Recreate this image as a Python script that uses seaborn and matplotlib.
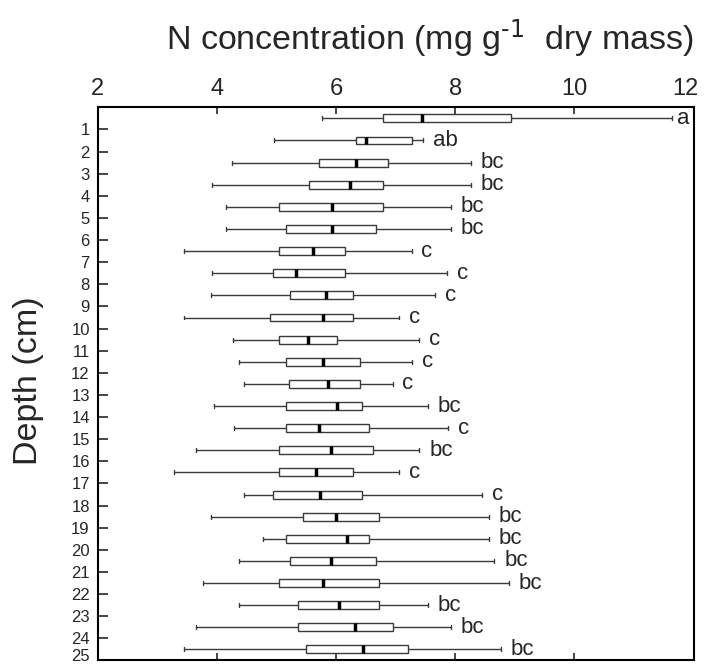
import numpy as np
import pandas as pd
import matplotlib
matplotlib.use('Agg')
import matplotlib.pyplot as plt
import matplotlib.transforms as mtransforms
import seaborn as sns

# 깊이별 N 농도 (박스플롯 요약값, 그림에서 읽은 값)
depth = list(range(1, 26))
whisker_lo = [5.76, 4.96, 4.25, 3.92, 4.16, 4.16, 3.45, 3.92, 3.90, 3.45,
              4.27, 4.37, 4.45, 3.95, 4.29, 3.66, 3.29, 4.45, 3.90, 4.77,
              4.38, 3.77, 4.38, 3.66, 3.45]
q1 = [6.79, 6.34, 5.71, 5.55, 5.04, 5.17, 5.04, 4.95, 5.23, 4.89,
      5.04, 5.17, 5.21, 5.17, 5.17, 5.04, 5.04, 4.95, 5.44, 5.17,
      5.23, 5.04, 5.36, 5.36, 5.50]
median = [7.45, 6.51, 6.33, 6.23, 5.93, 5.93, 5.62, 5.33, 5.84, 5.78,
          5.54, 5.79, 5.86, 6.01, 5.72, 5.92, 5.66, 5.73, 6.00, 6.18,
          5.91, 5.78, 6.05, 6.32, 6.45]
q3 = [8.93, 7.27, 6.88, 6.79, 6.79, 6.68, 6.16, 6.16, 6.28, 6.28,
      6.01, 6.40, 6.40, 6.44, 6.55, 6.62, 6.28, 6.43, 6.73, 6.55,
      6.68, 6.73, 6.73, 6.95, 7.21]
whisker_hi = [11.64, 7.46, 8.27, 8.27, 7.93, 7.93, 7.27, 7.87, 7.66, 7.06,
              7.40, 7.28, 6.95, 7.55, 7.88, 7.40, 7.06, 8.45, 8.57, 8.57,
              8.66, 8.90, 7.55, 7.93, 8.77]
letters = ['a', 'ab', 'bc', 'bc', 'bc', 'bc', 'c', 'c', 'c', 'c',
           'c', 'c', 'c', 'bc', 'c', 'bc', 'c', 'c', 'bc', 'bc',
           'bc', 'bc', 'bc', 'bc', 'bc']
x_ticks = [2, 4, 6, 8, 10, 12]

# 5개 값으로 사분위수가 정확히 나오도록 긴 형식 데이터 생성
rows = []
for i, d in enumerate(depth):
    for v in (whisker_lo[i], q1[i], median[i], q3[i], whisker_hi[i]):
        rows.append({'depth': str(d), 'N': v})
df = pd.DataFrame(rows)

sns.set_style('white')
plt.rcParams['font.family'] = ['Liberation Sans', 'DejaVu Sans']
plt.rcParams['mathtext.default'] = 'regular'

fig = plt.figure(figsize=(7.04, 6.66), dpi=100)
ax = fig.add_axes([0.1385, 0.0083, 0.8466, 0.8306])

sns.boxplot(data=df, x='N', y='depth', orient='h', order=[str(d) for d in depth],
            whis=(0, 100), showfliers=False, width=0.36, ax=ax,
            linecolor='#3a3a3a', linewidth=1,
            boxprops=dict(facecolor='white'),
            medianprops=dict(color='black', linewidth=2.5),
            whiskerprops=dict(color='#3a3a3a', linewidth=1),
            capprops=dict(color='#3a3a3a', linewidth=1))

# 유의성 문자 표시 (오른쪽 끝 가까운 것은 간격을 줄임)
for i, lab in enumerate(letters):
    gap = 3.5 if whisker_hi[i] > 11 else 7
    ax.annotate(lab, xy=(whisker_hi[i], i), xytext=(gap, 0), textcoords='offset points',
                ha='left', va='center', fontsize=16)

ax.set_xlim(2, 12)
ax.set_ylim(len(depth) - 0.5, -0.5)
ax.set_xticks(x_ticks)
ax.set_xticklabels([str(t) for t in x_ticks], fontsize=17)
ax.set_yticks([i + 0.5 for i in range(len(depth))])
ax.set_yticklabels([str(d) for d in depth], fontsize=12)
ax.tick_params(axis='x', top=True, bottom=True, labeltop=True, labelbottom=False,
               direction='in', length=5, width=1.2, pad=5)
ax.tick_params(axis='y', left=True, right=False, direction='in', length=7, width=1.2, pad=5.5)
ax.set_xlabel('')
ax.set_ylabel('')
for s in ax.spines.values():
    s.set_visible(True)
    s.set_linewidth(1.5)
    s.set_color('black')

# 가장자리 라벨이 잘리지 않도록 살짝 이동
for t in ax.xaxis.get_major_ticks()[-1:]:
    t.label2.set_transform(t.label2.get_transform() + mtransforms.ScaledTranslation(-8 / 100, 0, fig.dpi_scale_trans))
for t in ax.yaxis.get_major_ticks()[-1:]:
    t.label1.set_transform(t.label1.get_transform() + mtransforms.ScaledTranslation(0, 5 / 100, fig.dpi_scale_trans))

fig.text(0.611, 0.942, r'N concentration (mg g$^{\text{-1}}$  dry mass)', ha='center', va='center', fontsize=24.5)
fig.text(0.041, 0.429, 'Depth (cm)', ha='center', va='center', rotation=90, fontsize=24.5)

fig.savefig('out.png', dpi=100)
